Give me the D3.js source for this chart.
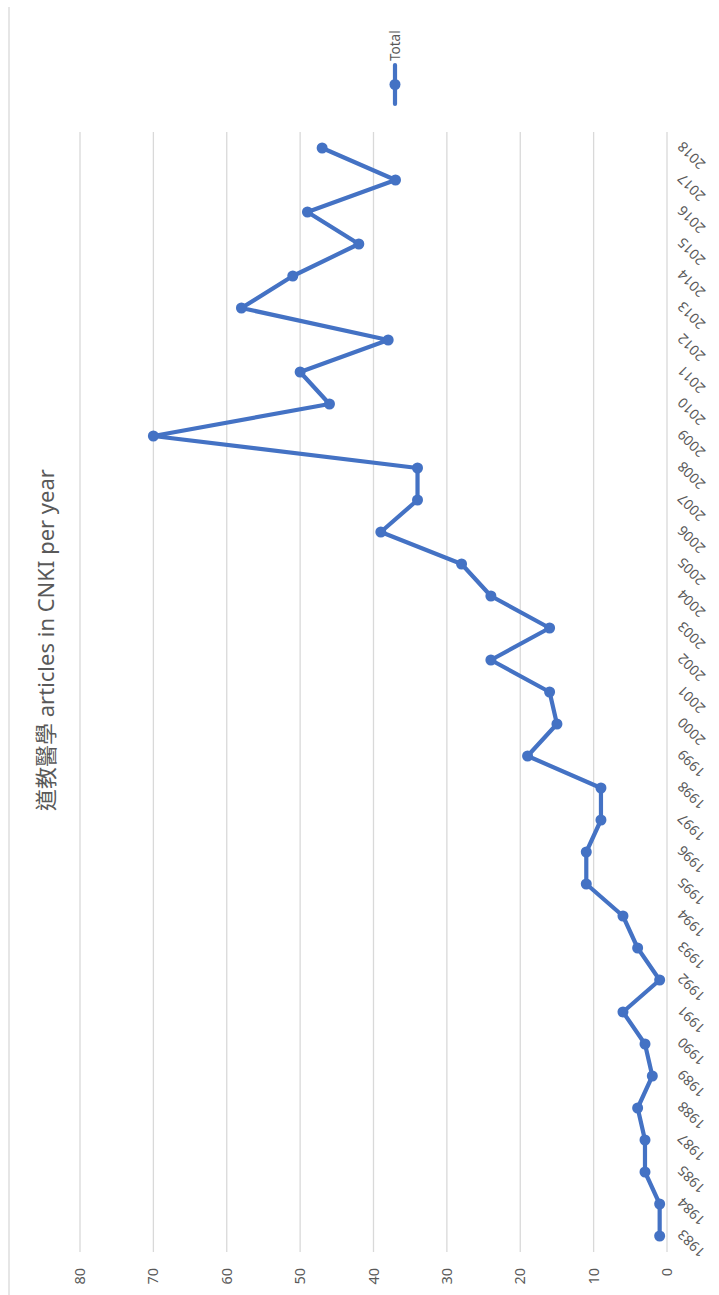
<!DOCTYPE html>
<html>
<head>
<meta charset="utf-8">
<script src="https://cdn.jsdelivr.net/npm/d3@7"></script>
<style>
  body { margin: 0; background: #fff; }
  svg { display: block; font-family: "Noto Sans", "Noto Sans CJK TC", sans-serif; }
</style>
</head>
<body>
<div id="chart"></div>
<script>
const years = ["1983", "1984", "1985", "1987", "1988", "1989", "1990", "1991", "1992", "1993",
    "1994", "1995", "1996", "1997", "1998", "1999", "2000", "2001", "2002", "2003",
    "2004", "2005", "2006", "2007", "2008", "2009", "2010", "2011", "2012", "2013",
    "2014", "2015", "2016", "2017", "2018"];
const totals = [1, 1, 3, 3, 4, 2, 3, 6, 1, 4,
    6, 11, 11, 9, 9, 19, 15, 16, 24, 16,
    24, 28, 39, 34, 34, 70, 46, 50, 38, 58,
    51, 42, 49, 37, 47];
const valueTicks = [0, 10, 20, 30, 40, 50, 60, 70, 80];
const seriesName = "Total";
const title = "道教醫學 articles in CNKI per year";

function renderChart() {
    const pageW = 719, pageH = 1295;
    // the chart is drawn landscape and then turned a quarter turn counter-clockwise
    const W = pageH, H = pageW;
    const grey = "#d9d9d9", textCol = "#595959", blue = "#4472c4";

    const svg = d3.select("#chart").append("svg")
        .attr("width", pageW)
        .attr("height", pageH);

    svg.append("rect").attr("width", pageW).attr("height", pageH).attr("fill", "#fff");

    const g = svg.append("g")
        .attr("transform", `translate(0,${pageH}) rotate(-90)`);

    // chart border (only the top edge shows)
    g.append("line")
        .attr("x1", -5).attr("x2", W - 7)
        .attr("y1", 9).attr("y2", 9)
        .attr("stroke", grey).attr("stroke-width", 1.3);

    const plotLeft = 43, plotRight = 1163;
    const xScale = d3.scaleBand()
        .domain(years)
        .range([plotLeft, plotRight]);
    const xc = d => xScale(d) + xScale.bandwidth() / 2;

    const yScale = d3.scaleLinear()
        .domain([0, 80])
        .range([667, 80]);

    // gridlines
    g.append("g").selectAll("line")
        .data(valueTicks)
        .enter().append("line")
        .attr("x1", plotLeft).attr("x2", plotRight)
        .attr("y1", d => yScale(d)).attr("y2", d => yScale(d))
        .attr("stroke", grey).attr("stroke-width", 1.3);

    // value labels
    g.append("g").selectAll("text")
        .data(valueTicks)
        .enter().append("text")
        .attr("x", 27)
        .attr("y", d => yScale(d))
        .attr("dy", "0.35em")
        .attr("text-anchor", "end")
        .attr("fill", textCol)
        .style("font-size", "14.5px")
        .text(d => d);

    // year labels, slanted
    g.append("g").selectAll("text")
        .data(years)
        .enter().append("text")
        .attr("transform", d => `translate(${xc(d) + 4},${yScale(0) + 13}) rotate(-45)`)
        .attr("dy", "0.35em")
        .attr("text-anchor", "end")
        .attr("fill", textCol)
        .style("font-size", "14px")
        .text(d => d);

    // line + markers
    const pts = years.map((y, i) => ({ year: y, value: totals[i] }));
    const line = d3.line()
        .x(d => xc(d.year))
        .y(d => yScale(d.value));

    g.append("path")
        .datum(pts)
        .attr("d", line)
        .attr("fill", "none")
        .attr("stroke", blue)
        .attr("stroke-width", 4.2)
        .attr("stroke-linejoin", "round")
        .attr("stroke-linecap", "round");

    g.append("g").selectAll("circle")
        .data(pts)
        .enter().append("circle")
        .attr("cx", d => xc(d.year))
        .attr("cy", d => yScale(d.value))
        .attr("r", 5.5)
        .attr("fill", blue);

    // title
    g.append("text")
        .attr("x", 655)
        .attr("y", 54)
        .attr("text-anchor", "middle")
        .attr("fill", textCol)
        .style("font-size", "22px")
        .text(title);

    // legend
    const legend = g.append("g").attr("transform", "translate(1191, 395)");
    legend.append("line")
        .attr("x1", 0).attr("x2", 39)
        .attr("stroke", blue).attr("stroke-width", 4.2)
        .attr("stroke-linecap", "round");
    legend.append("circle")
        .attr("cx", 19.5).attr("r", 5.5).attr("fill", blue);
    legend.append("text")
        .attr("x", 43)
        .attr("dy", "0.35em")
        .attr("fill", textCol)
        .style("font-size", "13.5px")
        .text(seriesName);
}

renderChart();
</script>
</body>
</html>
